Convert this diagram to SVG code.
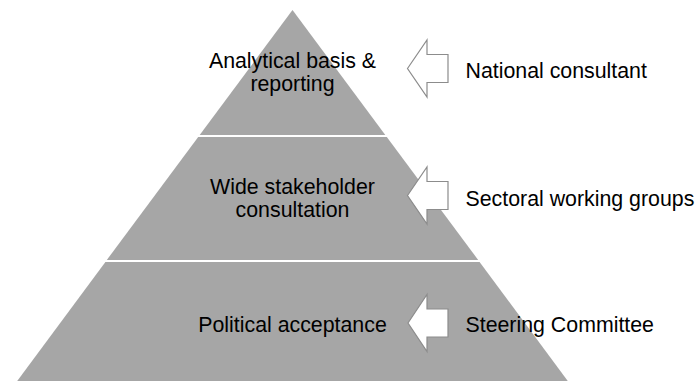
<svg xmlns="http://www.w3.org/2000/svg" width="699" height="381" viewBox="0 0 699 381">
<style>
.layer{fill:#A6A6A6;stroke:none}
.arrow{fill:#FFFFFF;stroke:#8C8C8C;stroke-width:1.2;stroke-linejoin:miter}
.t{font-family:"Liberation Sans",Arial,sans-serif;font-size:21.33px;fill:#000000}
.c{text-anchor:middle}
</style>
<rect width="699" height="381" fill="#FFFFFF"/>
<g id="layer-top">
<polygon class="layer" points="292.5,10 385.3,135 199.7,135"/>
<text class="t c" x="292.5" y="67.8">Analytical basis &amp;</text>
<text class="t c" x="292.5" y="91.2">reporting</text>
</g>
<g id="layer-middle">
<polygon class="layer" points="198.2,137 386.8,137 478.2,260 106.8,260"/>
<text class="t c" x="292.5" y="193.6">Wide stakeholder</text>
<text class="t c" x="292.5" y="217">consultation</text>
</g>
<g id="layer-bottom">
<polygon class="layer" points="105.4,262 479.6,262 570,384 15,384"/>
<text class="t c" x="292.5" y="331.5">Political acceptance</text>
</g>
<g id="connectors">
<polygon class="arrow" points="407.5,68.5 427,40 427,54.5 448,54.5 448,82.5 427,82.5 427,97"/>
<polygon class="arrow" points="407.5,195.5 427,167 427,181.5 448,181.5 448,209.5 427,209.5 427,224"/>
<polygon class="arrow" points="408,323 427,294.5 427,309 448,309 448,337 427,337 427,351.5"/>
</g>
<g id="label-national">
<text class="t" x="465.5" y="77.5">National consultant</text>
</g>
<g id="label-sectoral">
<text class="t" x="465.5" y="206">Sectoral working groups</text>
</g>
<g id="label-steering">
<text class="t" x="465.5" y="331.7">Steering Committee</text>
</g>
</svg>
